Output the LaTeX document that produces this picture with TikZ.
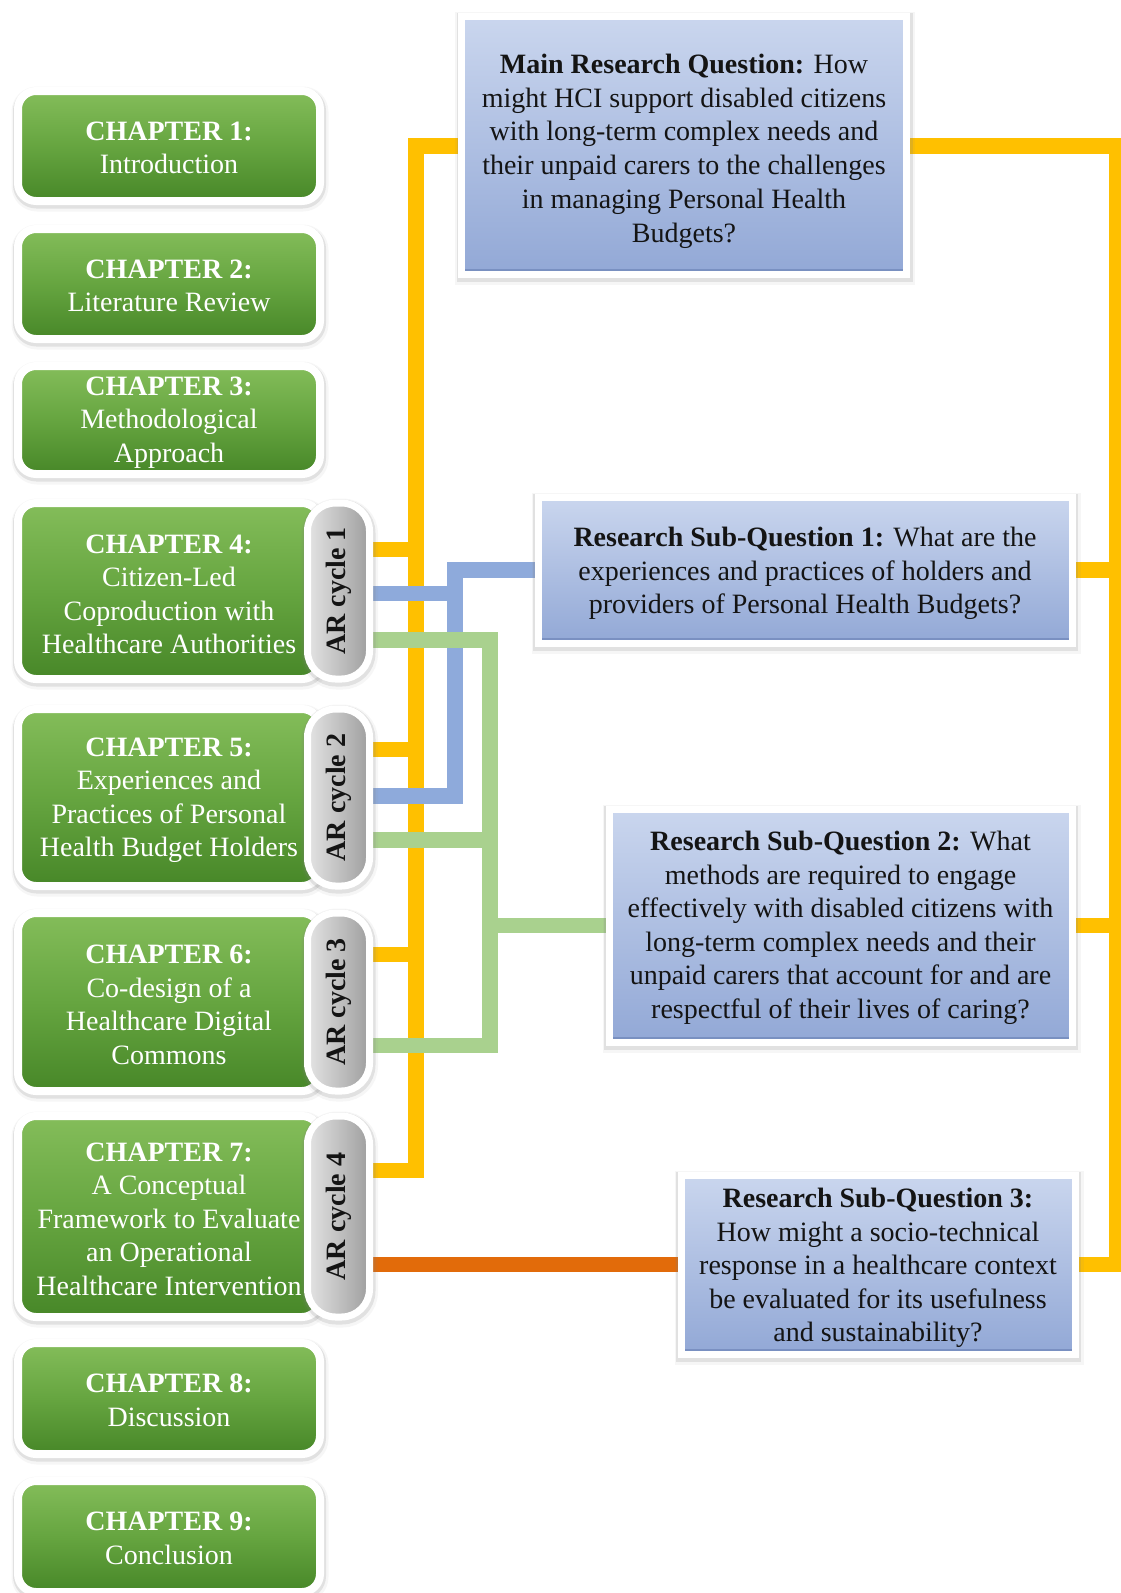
\documentclass[tikz,border=0pt]{standalone}
\usepackage{fontspec}
\setmainfont{Liberation Serif}
\usetikzlibrary{shadows,backgrounds}

\definecolor{gTop}{HTML}{84BD5A}
\definecolor{gMid}{HTML}{66A540}
\definecolor{gBot}{HTML}{478728}
\definecolor{bTop}{HTML}{CAD6EE}
\definecolor{bBot}{HTML}{92A8D6}
\definecolor{bEdge}{HTML}{6F86B8}
\definecolor{pLight}{HTML}{E4E4E4}
\definecolor{pDark}{HTML}{9E9E9E}
\definecolor{qText}{HTML}{141414}
\definecolor{lnYellow}{HTML}{FFC000}
\definecolor{lnBlue}{HTML}{8EAADB}
\definecolor{lnGreen}{HTML}{A9D18E}
\definecolor{lnOrange}{HTML}{E26B0A}

% invisible strut that lowers a centred text block a little
\newcommand\liftstrut[1]{\rule{0pt}{#1}}

\begin{document}
\begin{tikzpicture}[x=1pt,y=-1pt,
  txt/.style={font=\fontsize{28}{33.5}\selectfont, align=center, inner sep=0pt},
  % soft grey halo around the white frames
  softshadow/.style={
    drop shadow={shadow xshift=1pt, shadow yshift=-3pt,
      fill=black!50, draw=black!50, line width=15pt, opacity=0.07},
    drop shadow={shadow xshift=0.5pt, shadow yshift=-2pt,
      fill=black!50, draw=black!50, line width=11pt, opacity=0.18}},
  chap/.style={txt, draw=white, line width=8pt, rounded corners=18pt,
      top color=gTop, bottom color=gBot, middle color=gMid, text=white,
      minimum width=302pt, softshadow},
  pill/.style={txt, font=\bfseries\fontsize{28}{33.5}\selectfont,
      draw=white, line width=7pt, rounded corners=28pt, rotate=90,
      minimum height=62pt, left color=pLight, right color=pDark,
      text=qText, softshadow},
  quest/.style={txt, draw=white, line width=7pt, top color=bTop,
      bottom color=bBot, text=qText, softshadow,
      path picture={\draw[bEdge, line width=11pt, opacity=0.7]
        (path picture bounding box.south west) --
        (path picture bounding box.south east);}},
  conn/.style={line width=15.5pt, line cap=butt, line join=miter},
  yel/.style={conn, draw=lnYellow},
  blu/.style={conn, draw=lnBlue},
  grn/.style={conn, draw=lnGreen},
  org/.style={conn, draw=lnOrange}
]
\useasboundingbox (0,0) rectangle (1121,1593);

% chapter column
\node[chap, minimum height=110pt] (c1) at (169,146)
  {\liftstrut{22pt}\textbf{CHAPTER 1:}\\Introduction};
\node[chap, minimum height=110pt] (c2) at (169,284)
  {\liftstrut{22pt}\textbf{CHAPTER 2:}\\Literature Review};
\node[chap, minimum height=108pt] (c3) at (169,420)
  {\liftstrut{23pt}\textbf{CHAPTER 3:}\\Methodological\\Approach};
\node[chap, minimum height=176pt] (c4) at (169,591)
  {\liftstrut{25pt}\textbf{CHAPTER 4:}\\Citizen-Led\\Coproduction with\\Healthcare Authorities};
\node[chap, minimum height=177pt] (c5) at (169,797.5)
  {\liftstrut{24pt}\textbf{CHAPTER 5:}\\Experiences and\\Practices of Personal\\Health Budget Holders};
\node[chap, minimum height=178pt] (c6) at (169,1002)
  {\liftstrut{24pt}\textbf{CHAPTER 6:}\\Co-design of a\\Healthcare Digital\\Commons};
\node[chap, minimum height=201pt] (c7) at (169,1216.5)
  {\liftstrut{24pt}\textbf{CHAPTER 7:}\\A Conceptual\\Framework to Evaluate\\an Operational\\Healthcare Intervention};
\node[chap, minimum height=111pt] (c8) at (169,1398.5)
  {\liftstrut{22pt}\textbf{CHAPTER 8:}\\Discussion};
\node[chap, minimum height=111pt] (c9) at (169,1536.5)
  {\liftstrut{22pt}\textbf{CHAPTER 9:}\\Conclusion};

% action research cycles
\node[pill, minimum width=176pt] (p1) at (338.5,591) {AR cycle 1};
\node[pill, minimum width=177pt] (p2) at (338.5,797.5) {AR cycle 2};
\node[pill, minimum width=178pt] (p3) at (338.5,1002) {AR cycle 3};
\node[pill, minimum width=201pt] (p4) at (338.5,1216.5) {AR cycle 4};

% research questions
\node[quest, minimum width=445pt, minimum height=258pt,
      font=\fontsize{28}{33.8}\selectfont] (main) at (684,145.75)
  {\liftstrut{30pt}\textbf{Main Research Question:} How\\might HCI support disabled citizens\\with long-term complex needs and\\their unpaid carers to the challenges\\in managing Personal Health\\Budgets?};
\node[quest, minimum width=534pt, minimum height=146pt] (q1) at (805,570)
  {\liftstrut{27pt}\textbf{Research Sub-Question 1:} What are the\\experiences and practices of holders and\\providers of Personal Health Budgets?};
\node[quest, minimum width=463pt, minimum height=233pt] (q2) at (840.5,925.5)
  {\liftstrut{24pt}\textbf{Research Sub-Question 2:} What\\methods are required to engage\\effectively with disabled citizens with\\long-term complex needs and their\\unpaid carers that account for and are\\respectful of their lives of caring?};
\node[quest, minimum width=394pt, minimum height=179pt] (q3) at (878,1264.5)
  {\liftstrut{27pt}\textbf{Research Sub-Question 3:}\\How might a socio-technical\\response in a healthcare context\\be evaluated for its usefulness\\and sustainability?};

% junction points of the connector trunks
\coordinate (ya) at (416,145.75);
\coordinate (y1) at (416,549.5);
\coordinate (y2) at (416,749.5);
\coordinate (y3) at (416,954.5);
\coordinate (y4) at (416,1170.5);
\coordinate (yb) at (1117,145.75);
\coordinate (b0) at (455,570);
\coordinate (b1) at (455,593.5);
\coordinate (b2) at (455,796);
\coordinate (g1) at (490,640);
\coordinate (g2) at (490,840);
\coordinate (g3) at (490,1045.5);

\begin{scope}[on background layer]
  % main question links
  \draw[yel] (main.west) -- (ya) -- (y4) -- (p4 |- y4);
  \foreach \i in {1,2,3} \draw[yel] (p\i |- y\i) -- (y\i);
  \draw[yel] (main.east) -- (yb) -- (yb |- q3.east) -- (q3.east);
  \draw[yel] (q1.east) -- (yb |- q1.east);
  \draw[yel] (q2.east) -- (yb |- q2.east);
  % sub-question 1
  \draw[blu] (q1.west) -- (b0) -- (b2) -- (p2 |- b2);
  \draw[blu] (p1 |- b1) -- (b1);
  % sub-question 2
  \draw[grn] (p1 |- g1) -- (g1) -- (g3) -- (p3 |- g3);
  \draw[grn] (p2 |- g2) -- (g2);
  \draw[grn] (q2.west) -- (q2.west -| g1);
  % sub-question 3
  \draw[org] (p4 |- q3.west) -- (q3.west);
\end{scope}
\end{tikzpicture}
\end{document}
